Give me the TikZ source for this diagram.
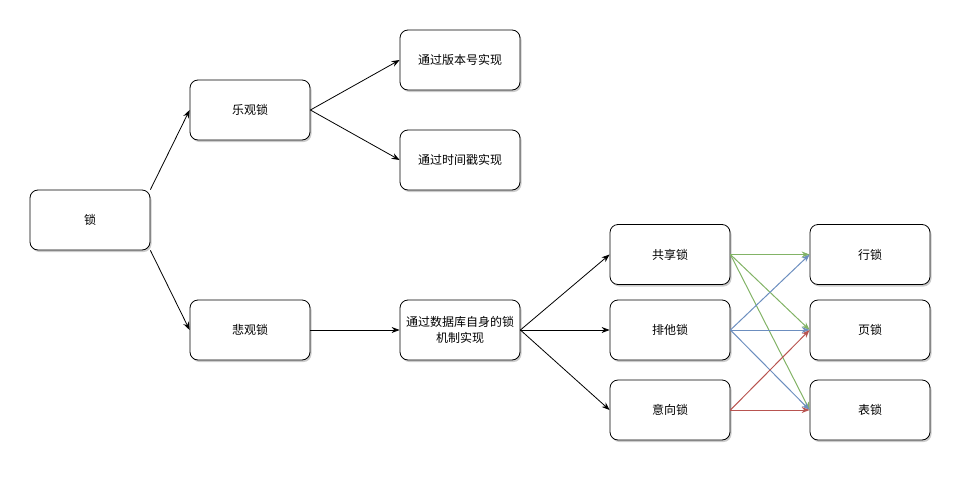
\documentclass[tikz,border=0pt]{standalone}
\usepackage{fontspec}
\newfontfamily\cjk{Noto Sans CJK SC}
\usetikzlibrary{arrows.meta,shadows}
\definecolor{egreen}{HTML}{82B366}
\definecolor{eblue}{HTML}{6C8EBF}
\definecolor{ered}{HTML}{B85450}
\begin{document}
\begin{tikzpicture}[x=1pt,y=-1pt,
  box/.style={draw=black,line width=0.8pt,fill=white,rounded corners=8pt,minimum width=120pt,minimum height=60pt,inner sep=1pt,align=center,font=\cjk\fontsize{12}{16}\selectfont,
    drop shadow={shadow xshift=1.5pt,shadow yshift=-2pt,fill=black!40,opacity=0.5}},
  arr/.style={line width=0.8pt,-{Stealth[length=8pt,width=6pt]}},
  carr/.style={line width=1pt,-{Stealth[length=8pt,width=6pt]}}]
\useasboundingbox (0,0) rectangle (967,477);
\node[box] (lock) at (90,220) {锁};
\node[box] (opt) at (250,110) {乐观锁};
\node[box] (pes) at (250,330) {悲观锁};
\node[box] (ver) at (460,60) {通过版本号实现};
\node[box] (ts) at (460,160) {通过时间戳实现};
\node[box] (db) at (460,330) {通过数据库自身的锁\\机制实现};
\node[box] (sh) at (670,254.5) {共享锁};
\node[box] (ex) at (670,330) {排他锁};
\node[box] (it) at (670,410) {意向锁};
\node[box] (row) at (870,254.5) {行锁};
\node[box] (page) at (870,330) {页锁};
\node[box] (tab) at (870,410) {表锁};
\draw[arr] (lock.north east) -- (opt.west);
\draw[arr] (lock.south east) -- (pes.west);
\draw[arr] (opt.east) -- (ver.west);
\draw[arr] (opt.east) -- (ts.west);
\draw[arr] (pes.east) -- (db.west);
\draw[arr] (db.east) -- (sh.west);
\draw[arr] (db.east) -- (ex.west);
\draw[arr] (db.east) -- (it.west);
\draw[carr,egreen] (sh.east) -- (row.west);
\draw[carr,egreen] (sh.east) -- (page.west);
\draw[carr,egreen] (sh.east) -- (tab.west);
\draw[carr,eblue] (ex.east) -- (row.west);
\draw[carr,eblue] (ex.east) -- (page.west);
\draw[carr,eblue] (ex.east) -- (tab.west);
\draw[carr,ered] (it.east) -- (page.west);
\draw[carr,ered] (it.east) -- (tab.west);
\end{tikzpicture}
\end{document}
